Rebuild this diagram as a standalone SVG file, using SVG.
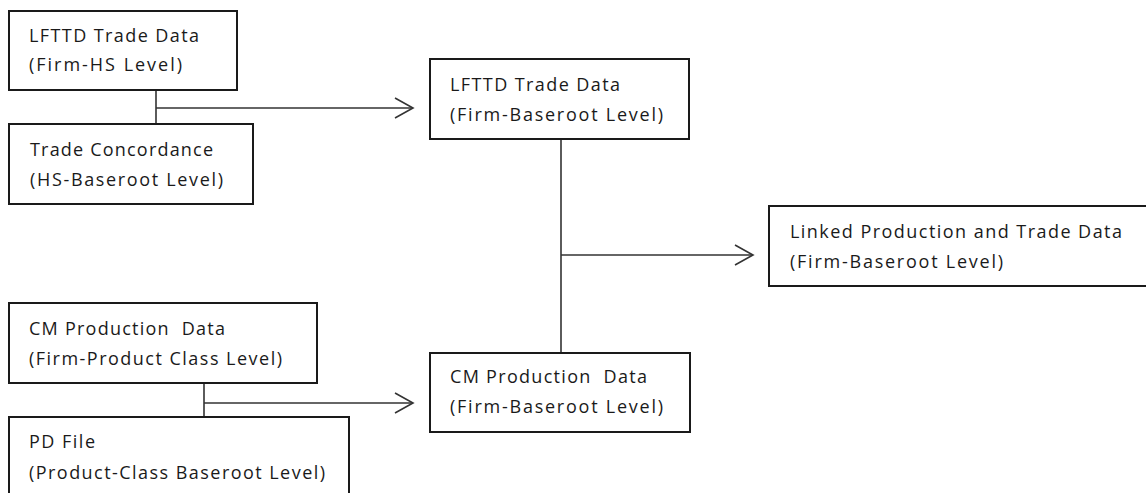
<svg xmlns="http://www.w3.org/2000/svg" width="1146" height="493" viewBox="0 0 1146 493">
  <style>
    .box { fill: #ffffff; stroke: #1a1a1a; stroke-width: 2; }
    .lbl { font-family: "Open Sans", "Liberation Sans", Arial, sans-serif; font-size: 18px; fill: #1a1a1a; }
    .conn { fill: none; stroke: #333333; stroke-width: 1.6; }
  </style>
  <defs>
    <marker id="chev" markerUnits="userSpaceOnUse" markerWidth="22" markerHeight="24" refX="19" refY="11" orient="auto">
      <path d="M1,1 L19,11 L1,21" fill="none" stroke="#333333" stroke-width="1.6"/>
    </marker>
  </defs>
  <rect width="1146" height="493" fill="#ffffff"/>

  <g id="connectors">
    <path class="conn" d="M156,90 V124"/>
    <path class="conn" d="M156,108 H413" marker-end="url(#chev)"/>
    <path class="conn" d="M204,383 V417"/>
    <path class="conn" d="M204,403 H413" marker-end="url(#chev)"/>
    <path class="conn" d="M561,139 V353"/>
    <path class="conn" d="M561,255 H753" marker-end="url(#chev)"/>
  </g>

  <g id="lfttd-hs">
    <rect class="box" x="9" y="11" width="228" height="79"/>
    <text class="lbl" x="29" y="42" textLength="170" lengthAdjust="spacing">LFTTD Trade Data</text>
    <text class="lbl" x="29" y="71" textLength="153" lengthAdjust="spacing">(Firm-HS Level)</text>
  </g>

  <g id="trade-concordance">
    <rect class="box" x="9" y="124" width="244" height="80"/>
    <text class="lbl" x="30" y="156" textLength="183" lengthAdjust="spacing">Trade Concordance</text>
    <text class="lbl" x="30" y="186" textLength="193" lengthAdjust="spacing">(HS-Baseroot Level)</text>
  </g>

  <g id="cm-product-class">
    <rect class="box" x="9" y="303" width="308" height="80"/>
    <text class="lbl" x="29" y="335" textLength="196" lengthAdjust="spacing" xml:space="preserve">CM Production  Data</text>
    <text class="lbl" x="29" y="365" textLength="253" lengthAdjust="spacing">(Firm-Product Class Level)</text>
  </g>

  <g id="pd-file">
    <rect class="box" x="9" y="417" width="340" height="90"/>
    <text class="lbl" x="29" y="448" textLength="66" lengthAdjust="spacing">PD File</text>
    <text class="lbl" x="29" y="479" textLength="296" lengthAdjust="spacing">(Product-Class Baseroot Level)</text>
  </g>

  <g id="lfttd-baseroot">
    <rect class="box" x="430" y="59" width="259" height="80"/>
    <text class="lbl" x="450" y="91" textLength="170" lengthAdjust="spacing">LFTTD Trade Data</text>
    <text class="lbl" x="450" y="121" textLength="213" lengthAdjust="spacing">(Firm-Baseroot Level)</text>
  </g>

  <g id="cm-baseroot">
    <rect class="box" x="430" y="353" width="260" height="79"/>
    <text class="lbl" x="450" y="383" textLength="197" lengthAdjust="spacing" xml:space="preserve">CM Production  Data</text>
    <text class="lbl" x="450" y="413" textLength="213" lengthAdjust="spacing">(Firm-Baseroot Level)</text>
  </g>

  <g id="linked">
    <rect class="box" x="769" y="206" width="400" height="80"/>
    <text class="lbl" x="790" y="238" textLength="332" lengthAdjust="spacing">Linked Production and Trade Data</text>
    <text class="lbl" x="790" y="268" textLength="213" lengthAdjust="spacing">(Firm-Baseroot Level)</text>
  </g>
</svg>
